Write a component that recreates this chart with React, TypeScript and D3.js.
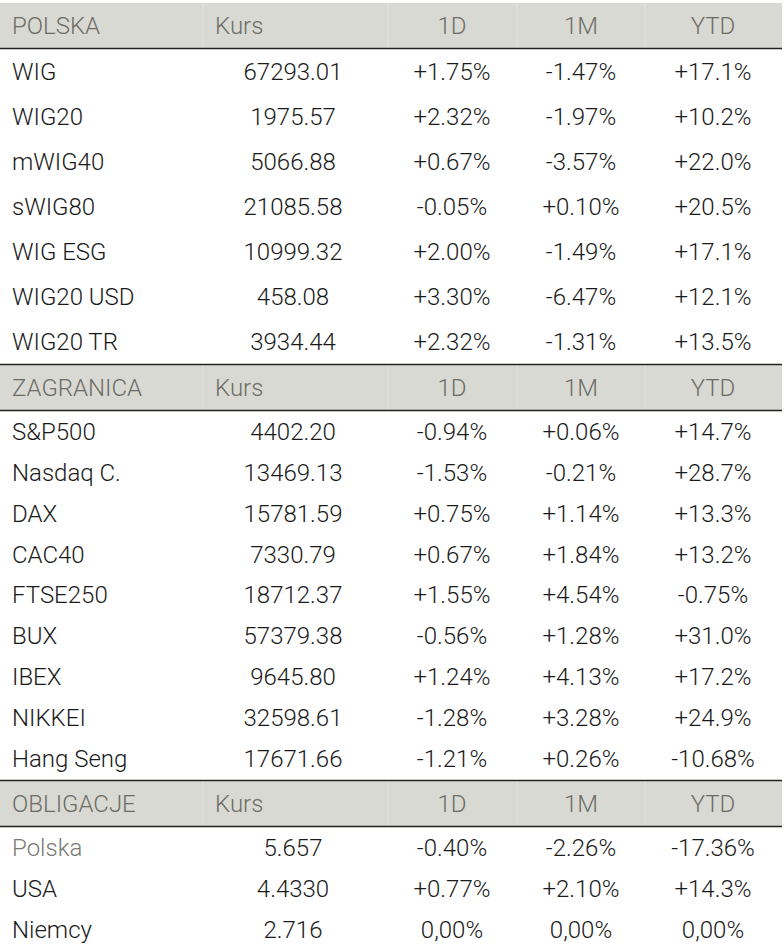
import React, { useRef, useEffect } from 'react';
import * as d3 from 'd3';

const headers = ['Kurs', '1D', '1M', 'YTD'];

const polskaNames = ['WIG', 'WIG20', 'mWIG40', 'sWIG80', 'WIG ESG', 'WIG20 USD', 'WIG20 TR'];
const polskaKurs = ['67293.01', '1975.57', '5066.88', '21085.58', '10999.32', '458.08', '3934.44'];
const polska1D = ['+1.75%', '+2.32%', '+0.67%', '-0.05%', '+2.00%', '+3.30%', '+2.32%'];
const polska1M = ['-1.47%', '-1.97%', '-3.57%', '+0.10%', '-1.49%', '-6.47%', '-1.31%'];
const polskaYTD = ['+17.1%', '+10.2%', '+22.0%', '+20.5%', '+17.1%', '+12.1%', '+13.5%'];

const zagrNames = ['S&P500', 'Nasdaq C.', 'DAX', 'CAC40', 'FTSE250', 'BUX', 'IBEX', 'NIKKEI', 'Hang Seng'];
const zagrKurs = ['4402.20', '13469.13', '15781.59', '7330.79', '18712.37', '57379.38', '9645.80', '32598.61', '17671.66'];
const zagr1D = ['-0.94%', '-1.53%', '+0.75%', '+0.67%', '+1.55%', '-0.56%', '+1.24%', '-1.28%', '-1.21%'];
const zagr1M = ['+0.06%', '-0.21%', '+1.14%', '+1.84%', '+4.54%', '+1.28%', '+4.13%', '+3.28%', '+0.26%'];
const zagrYTD = ['+14.7%', '+28.7%', '+13.3%', '+13.2%', '-0.75%', '+31.0%', '+17.2%', '+24.9%', '-10.68%'];

const oblNames = ['Polska', 'USA', 'Niemcy'];
const oblKurs = ['5.657', '4.4330', '2.716'];
const obl1D = ['-0.40%', '+0.77%', '0,00%'];
const obl1M = ['-2.26%', '+2.10%', '0,00%'];
const oblYTD = ['-17.36%', '+14.3%', '0,00%'];

const sections = [
  { title: 'POLSKA', names: polskaNames, cols: [polskaKurs, polska1D, polska1M, polskaYTD], top: 3, bottom: 364 },
  { title: 'ZAGRANICA', names: zagrNames, cols: [zagrKurs, zagr1D, zagr1M, zagrYTD], top: 365, bottom: 779 },
  { title: 'OBLIGACJE', names: oblNames, cols: [oblKurs, obl1D, obl1M, oblYTD], top: 781, bottom: 950 },
];

const W = 784;
const H = 952;
const HEAD_H = 45;
const FONT = "Roboto, 'Noto Sans', sans-serif";

function App() {
  const ref = useRef<SVGSVGElement>(null);

  useEffect(() => {
    const svg = d3.select(ref.current);
    svg.selectAll('*').remove();

    // column centres (value cols) and separators in header
    const colX = d3.scaleOrdinal<number, number>().domain([0, 1, 2, 3]).range([293, 452, 581, 713]);
    const sepX = [203, 388, 517, 645];

    sections.forEach((sec, si) => {
      const g = svg.append('g');
      const headBottom = sec.top + HEAD_H;

      g.append('rect')
        .attr('x', 0).attr('y', sec.top)
        .attr('width', 782).attr('height', HEAD_H)
        .attr('fill', '#d9d9d3');

      g.selectAll('line.sep').data(sepX).join('line')
        .attr('x1', d => d).attr('x2', d => d)
        .attr('y1', sec.top).attr('y2', headBottom)
        .attr('stroke', '#e4e4df').attr('stroke-width', 1);

      // dark rules
      if (si > 0) {
        g.append('line')
          .attr('x1', 0).attr('x2', 782)
          .attr('y1', sec.top - 0.5).attr('y2', sec.top - 0.5)
          .attr('stroke', '#222').attr('stroke-width', 1.6);
      }
      g.append('line')
        .attr('x1', 0).attr('x2', 782)
        .attr('y1', headBottom + 0.5).attr('y2', headBottom + 0.5)
        .attr('stroke', '#222').attr('stroke-width', 1.6);

      const headY = sec.top + HEAD_H / 2;
      g.append('text')
        .attr('x', 12).attr('y', headY)
        .attr('dy', '0.35em')
        .attr('fill', '#6d6d66')
        .text(sec.title);
      g.selectAll('text.h').data(headers).join('text')
        .attr('class', 'h')
        .attr('x', (d, i) => (i === 0 ? 215 : colX(i)))
        .attr('y', headY)
        .attr('dy', '0.35em')
        .attr('text-anchor', (d, i) => (i === 0 ? 'start' : 'middle'))
        .attr('fill', '#6d6d66')
        .text(d => d);

      const y = d3.scaleBand<number>()
        .domain(d3.range(sec.names.length))
        .range([headBottom + 1, sec.bottom]);

      const rows = g.selectAll('g.row').data(sec.names).join('g')
        .attr('class', 'row')
        .attr('transform', (d, i) => `translate(0,${y(i)! + y.bandwidth() / 2})`);

      rows.append('text')
        .attr('x', 12)
        .attr('dy', '0.35em')
        .attr('fill', (d, i) => (si === 2 && i === 0 ? '#7a7a74' : '#1a1a1a'))
        .text(d => d);

      sec.cols.forEach((col, ci) => {
        rows.append('text')
          .attr('x', colX(ci))
          .attr('dy', '0.35em')
          .attr('text-anchor', 'middle')
          .attr('fill', '#1a1a1a')
          .text((d, i) => col[i]);
      });
    });
  }, []);

  return (
    <svg
      ref={ref}
      width={W}
      height={H}
      style={{ position: 'absolute', left: 0, top: 0, fontFamily: FONT, fontSize: 24, fontWeight: 300, background: '#fff' }}
    />
  );
}

export default App;
